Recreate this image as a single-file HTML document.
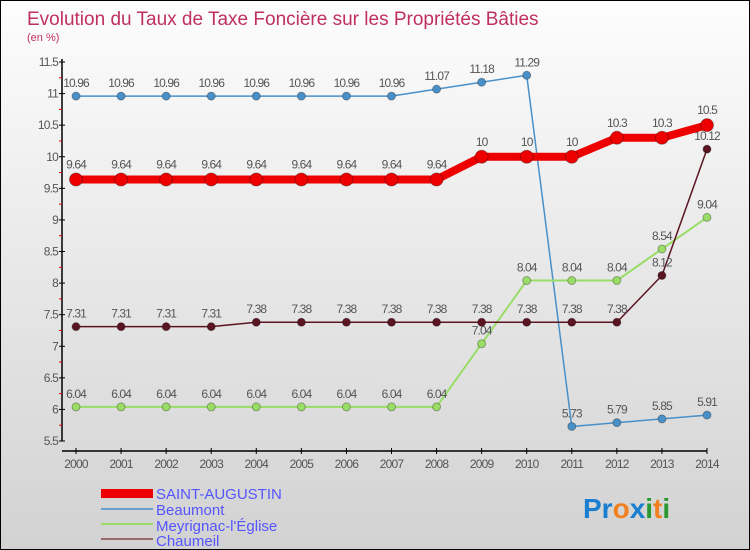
<!DOCTYPE html>
<html><head><meta charset="utf-8"><style>
body{margin:0}
#c{width:750px;height:550px;position:relative;background:linear-gradient(#fdfdfd,#d2d2d2);border:1px solid #000;box-sizing:border-box;font-family:"Liberation Sans",sans-serif;overflow:hidden}
svg text{font-family:"Liberation Sans",sans-serif}
</style></head><body>
<div id="c">
<svg id="s" width="750" height="550">
<text x="26" y="24" font-size="19" fill="#c0305e">Evolution du Taux de Taxe Foncière sur les Propriétés Bâties</text>
<text x="26" y="40" font-size="11" fill="#c0305e">(en %)</text>
<g id="g"></g>
<g>
<rect x="100" y="488" width="52" height="9" fill="#e00"/>
<text x="155" y="498" font-size="15" fill="#55f">SAINT-AUGUSTIN</text>
<line x1="100" y1="508" x2="152" y2="508" stroke="#6a9fd0" stroke-width="2"/>
<text x="155" y="514" font-size="15" fill="#55f">Beaumont</text>
<line x1="100" y1="523" x2="152" y2="523" stroke="#99dd66" stroke-width="2"/>
<text x="155" y="530" font-size="15" fill="#55f">Meyrignac-l'Église</text>
<line x1="100" y1="538" x2="152" y2="538" stroke="#9a6a6a" stroke-width="2"/>
<text x="155" y="545" font-size="15" fill="#55f">Chaumeil</text>
</g>
<text x="582" y="517" font-size="28" font-weight="bold"><tspan fill="#1a7fd0">Pr</tspan><tspan fill="#f08020">o</tspan><tspan fill="#1a7fd0">x</tspan><tspan fill="#2a9a30">i</tspan><tspan fill="#f08020">t</tspan><tspan fill="#2a9a30">i</tspan></text>
</svg></div>
<script>
const years=[2000,2001,2002,2003,2004,2005,2006,2007,2008,2009,2010,2011,2012,2013,2014];
const yTicks=[5.5,6,6.5,7,7.5,8,8.5,9,9.5,10,10.5,11,11.5];
const saint=[9.64,9.64,9.64,9.64,9.64,9.64,9.64,9.64,9.64,10,10,10,10.3,10.3,10.5];
const beaumont=[10.96,10.96,10.96,10.96,10.96,10.96,10.96,10.96,11.07,11.18,11.29,5.73,5.79,5.85,5.91];
const meyr=[6.04,6.04,6.04,6.04,6.04,6.04,6.04,6.04,6.04,7.04,8.04,8.04,8.04,8.54,9.04];
const chaumeil=[7.31,7.31,7.31,7.31,7.38,7.38,7.38,7.38,7.38,7.38,7.38,7.38,7.38,8.12,10.12];
const NS="http://www.w3.org/2000/svg",g=document.getElementById('g');
const x=i=>75+i*(706-75)/(years.length-1);
const y=v=>61+(11.5-v)*(440-61)/6;
function el(t,a){const e=document.createElementNS(NS,t);for(const k in a)e.setAttribute(k,a[k]);g.appendChild(e);return e;}
let e=el('line',{x1:61,y1:58,x2:61,y2:440,stroke:'#000','stroke-width':1.5});


e=el('line',{x1:61,y1:450,x2:706,y2:450,stroke:'#000','stroke-width':1.5});


yTicks.forEach(v=>{el('line',{x1:58,x2:64,y1:y(v),y2:y(v),stroke:'#000'});
if(v<11.5)el('line',{x1:58,x2:61,y1:y(v+0.25),y2:y(v+0.25),stroke:'#e00'});
const t=el('text',{x:57,y:y(v)+4,'font-size':12,fill:'#555','text-anchor':'end','letter-spacing':'-0.8'});t.textContent=String(v);

});
years.forEach((yr,i)=>{el('line',{x1:x(i),x2:x(i),y1:447,y2:453,stroke:'#000'});
const t=el('text',{x:x(i),y:467,'font-size':12,fill:'#555','text-anchor':'middle','letter-spacing':'-0.8'});t.textContent=yr;

});
function series(d,col,w,r,name,labOff){
const p=el('polyline',{points:d.map((v,i)=>x(i)+','+y(v)).join(' '),fill:'none',stroke:col,'stroke-width':w,'stroke-linejoin':'round'});


d.forEach((v,i)=>{const c=el('circle',{cx:x(i),cy:y(v),r:r,fill:col,stroke:'rgba(0,0,0,0.3)'});


const t=el('text',{x:x(i),y:y(v)-labOff,'font-size':12,fill:'#555','text-anchor':'middle','letter-spacing':'-0.9'});t.textContent=String(v);

});}
series(beaumont,'#4a90c8',1.5,4,'beaumont',9);
series(meyr,'#99dd66',2,4,'meyrignac',9);
series(chaumeil,'#5a1422',1.5,4,'chaumeil',9);
series(saint,'#ee0000',8,6.5,'saint-augustin',11);
</script></body></html>
